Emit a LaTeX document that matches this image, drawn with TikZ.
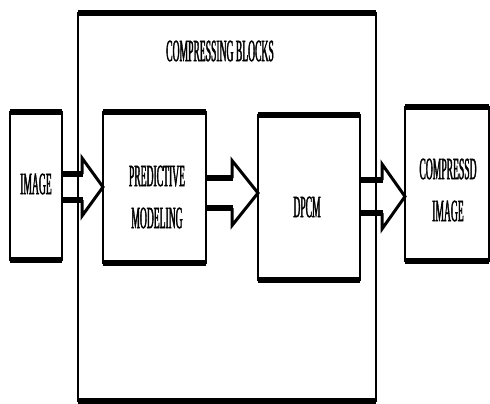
\documentclass[tikz,border=0pt]{standalone}
\usepackage{fontspec}
\usetikzlibrary{calc}
\newfontfamily\narrowserif[FakeStretch=0.31,FakeBold=1.2]{Liberation Serif}

\tikzset{
  blockbox/.style={draw=black, line width=1.6pt, inner sep=0pt, outer sep=0pt},
  bar/.style={line width=6pt, line cap=butt},
  shaft/.style={line width=5.5pt, line cap=butt},
  head/.style={line width=3pt, line join=miter, miter limit=10},
  lbl/.style={inner sep=0pt, align=center,
    font=\narrowserif\fontsize{31}{42}\selectfont},
}

% open block arrow: source node, target node, head-back point on the axis,
% half shaft width, half head width
\newcommand\openarrow[5]{%
  \draw[shaft] ($(#1.east|-#3)+(0,-#4)$) -- ($(#3)+(1,-#4)$);
  \draw[shaft] ($(#1.east|-#3)+(0,#4)$) -- ($(#3)+(1,#4)$);
  \draw[head] ($(#3)+(0,-#4)$) -- ($(#3)+(0,-#5)$) -- (#2.west|-#3)
              -- ($(#3)+(0,#5)$) -- ($(#3)+(0,#4)$);
}

\begin{document}
\begin{tikzpicture}[x=1pt,y=-1pt]
  \useasboundingbox (0,0) rectangle (490,404);

  % boxes
  \node[blockbox, minimum width=298pt, minimum height=388pt] (big)  at (227,207)   {};
  \node[blockbox, minimum width=52pt,  minimum height=148pt] (img)  at (36,186)    {};
  \node[blockbox, minimum width=103pt, minimum height=151pt] (pred) at (154.5,187.5) {};
  \node[blockbox, minimum width=102pt, minimum height=165pt] (dpcm) at (309,197.5) {};
  \node[blockbox, minimum width=84pt,  minimum height=154pt] (comp) at (447,184)   {};

  % heavy top and bottom edges
  \foreach \b in {big,img,pred,dpcm,comp} {
    \draw[bar] (\b.north west) -- (\b.north east);
    \draw[bar] (\b.south west) -- (\b.south east);
  }

  % labels
  \node[lbl] (big-t)  at (220,51)  {COMPRESSING BLOCKS};
  \node[lbl] (img-t)  at (36,184)  {IMAGE};
  \node[lbl] (pred-t) at (157,197) {PREDICTIVE\\MODELING};
  \node[lbl] (dpcm-t) at (307,207) {DPCM};
  \node[lbl] (comp-t) at (448,190) {COMPRESSD\\IMAGE};

  % arrows between the stages
  \coordinate (hb1) at (82,187);
  \coordinate (hb2) at (232,193);
  \coordinate (hb3) at (382,196.5);
  \openarrow{img}{pred}{hb1}{13}{29}
  \openarrow{pred}{dpcm}{hb2}{15}{32.5}
  \openarrow{dpcm}{comp}{hb3}{16.5}{32.5}
\end{tikzpicture}
\end{document}
